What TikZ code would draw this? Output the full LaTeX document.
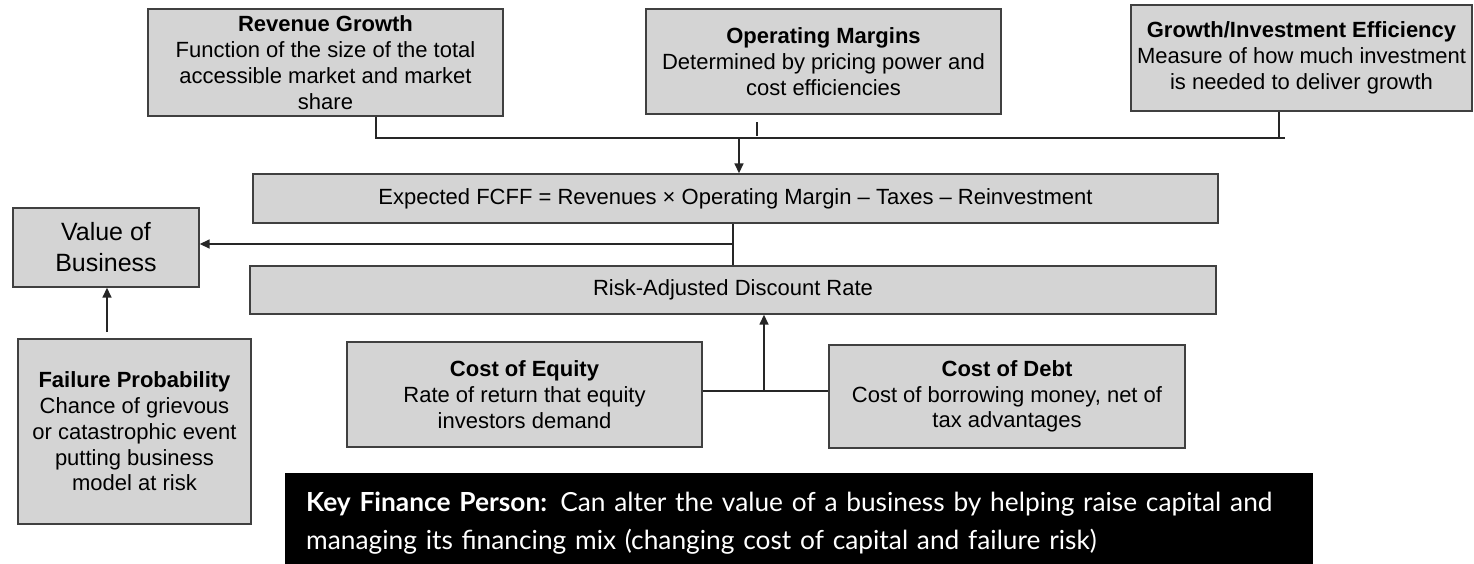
\documentclass[tikz,border=0pt]{standalone}
\usepackage{fontspec}
\setmainfont{Liberation Sans}
\newfontfamily\keyfont{Lato}
\usetikzlibrary{positioning, arrows.meta}

\tikzset{
  boxnode/.style={draw=black!75, line width=1.4pt, fill=black!17, inner sep=0pt,
    align=center, font=\fontsize{22}{25.8}\selectfont},
  link/.style={draw=black!85, line width=1.6pt},
  arrowlink/.style={link, -{Triangle[length=10pt,width=9pt]}}
}

\begin{document}
\begin{tikzpicture}[x=1pt,y=-1pt]
    \useasboundingbox (0,0) rectangle (1474,563);

    % drivers on top
    \node[boxnode, minimum width=355pt, minimum height=107pt] (rev) at (325.5,62.5)
        {\textbf{Revenue Growth}\\Function of the size of the total\\accessible market and market\\share};
    \node[boxnode, minimum width=355pt, minimum height=105pt] (opm) at (823.5,61.5)
        {\textbf{Operating Margins}\\Determined by pricing power and\\cost efficiencies};
    \node[boxnode, minimum width=341pt, minimum height=106pt] (gie) at (1301.5,58)
        {\textbf{Growth/Investment Efficiency}\\Measure of how much investment\\is needed to deliver growth};

    % middle row
    \node[boxnode, minimum width=965pt, minimum height=49pt] (fcff) at (735.5,198.5)
        {Expected FCFF = Revenues × Operating Margin – Taxes – Reinvestment};
    \node[boxnode, minimum width=966pt, minimum height=48pt] (risk) at (733,290)
        {Risk-Adjusted Discount Rate};
    \node[boxnode, minimum width=186pt, minimum height=79pt, font=\fontsize{25}{31}\selectfont] (vob) at (106,247.5)
        {Value of\\Business};

    % bottom row
    \node[boxnode, minimum width=233pt, minimum height=185pt] (fail) at (134.5,431.5)
        {\textbf{Failure Probability}\\Chance of grievous\\or catastrophic event\\putting business\\model at risk};
    \node[boxnode, minimum width=355pt, minimum height=105pt] (coe) at (524.5,394.5)
        {\textbf{Cost of Equity}\\Rate of return that equity\\investors demand};
    \node[boxnode, minimum width=356pt, minimum height=103pt] (cod) at (1007,396.5)
        {\textbf{Cost of Debt}\\Cost of borrowing money, net of\\tax advantages};

    \node[fill=black, text=white, anchor=north west, minimum width=1028pt, minimum height=100pt,
          text width=986pt, inner xsep=21pt, align=left, font=\keyfont\fontsize{26.3}{38}\selectfont] (kfp) at (285,473)
        {\textbf{Key Finance Person:} Can alter the value of a business by helping raise capital and\\managing its financing mix (changing cost of capital and failure risk)};

    % connectors
    \coordinate (top) at (739,138);
    \draw[link] (rev.south -| 376,0) -- (376,138) -- (1285,138);
    \draw[link] (gie.south -| 1279,0) -- (1279,138);
    \draw[link] (757,122) -- (757,136);
    \draw[arrowlink] (top) -- (fcff.north -| top);

    \coordinate (split) at (733,244);
    \draw[link] (fcff.south -| split) -- (risk.north -| split);
    \draw[arrowlink] (split) -- (vob.east |- split);

    \coordinate (join) at (764,391);
    \draw[link] (coe.east |- join) -- (cod.west |- join);
    \draw[arrowlink] (join) -- (risk.south -| join);

    \draw[arrowlink] (107,332) -- (vob.south -| 107,0);
\end{tikzpicture}
\end{document}
